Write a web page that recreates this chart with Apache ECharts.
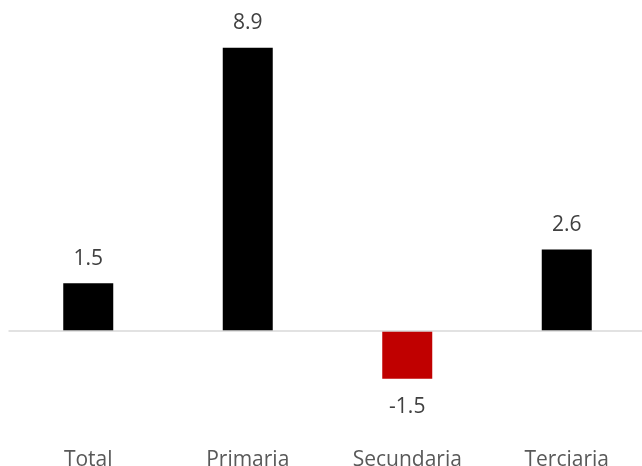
<!DOCTYPE html>
<html><head><meta charset="utf-8">
<script src="https://cdn.jsdelivr.net/npm/echarts@6/dist/echarts.min.js"></script>
<style>html,body{margin:0;padding:0;background:#fff}#c{width:642px;height:466px}</style>
</head><body><div id="c"></div>
<script>
const categories = ['Total', 'Primaria', 'Secundaria', 'Terciaria'];
const values = [1.5, 8.9, -1.5, 2.56];
const chart = echarts.init(document.getElementById('c'), null, {renderer: 'canvas'});
chart.setOption({
  animation: false,
  grid: {left: 8.5, right: -4.5, top: 12.7, bottom: 39.5, containLabel: false, outerBoundsMode: 'none'},
  xAxis: {
    type: 'category', data: categories, position: 'bottom',
    axisLine: {show: false}, axisTick: {show: false},
    axisLabel: {color: '#595959', fontSize: 21, fontFamily: 'Open Sans', margin: 23}
  },
  yAxis: {type: 'value', min: -3, max: 10, show: false, splitLine: {show: false}},
  series: [{
    type: 'bar', barWidth: 50,
    data: values.map(v => ({
      value: v,
      itemStyle: {color: v < 0 ? '#C00000' : '#000000'},
      label: {position: v < 0 ? 'bottom' : 'top', distance: v < 0 ? 18 : 14}
    })),
    label: {
      show: true, color: '#404040', fontSize: 21, fontFamily: 'Open Sans',
      formatter: p => p.value.toFixed(1)
    },
    markLine: {
      silent: true, symbol: 'none', label: {show: false},
      lineStyle: {color: '#d9d9d9', width: 1.5, type: 'solid'},
      data: [{yAxis: 0}]
    }
  }]
});
</script></body></html>
